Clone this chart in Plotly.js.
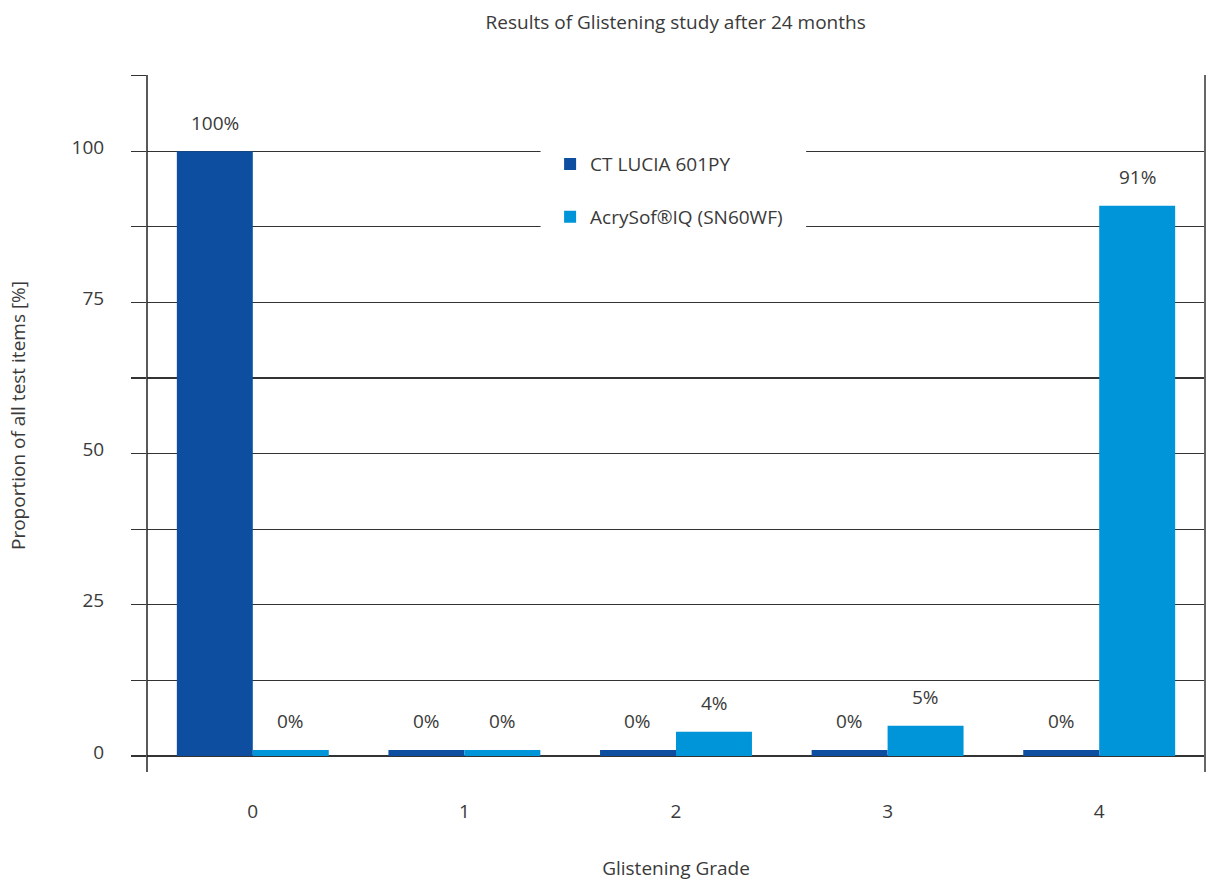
<!DOCTYPE html>
<html>
<head>
<meta charset="utf-8">
<script src="https://cdn.plot.ly/plotly-3.0.1.min.js"></script>
<style>html,body{margin:0;padding:0;background:#fff;}#chart{width:1212px;height:885px;}</style>
</head>
<body>
<div id="chart"></div>
<script>
const grades = [0, 1, 2, 3, 4];
const gradeLabels = ['0', '1', '2', '3', '4'];
const seriesNames = ['CT LUCIA 601PY', 'AcrySof®IQ (SN60WF)'];
const luciaValues = [100, 0, 0, 0, 0];
const acrysofValues = [0, 0, 4, 5, 91];
const yTickVals = [0, 12.5, 25, 37.5, 50, 62.5, 75, 87.5, 100, 112.5];
const yTickText = ['0', '', '25', '', '50', '', '75', '', '100', ''];

const FONT = '"Open Sans", "Noto Sans", sans-serif';
const TXT = '#3a3a3a';
const colors = ['#0d4ea0', '#0095d9'];
const minShown = 1; // zero-valued bars are drawn as a thin sliver in the reference

const allSeries = [luciaValues, acrysofValues];
const traces = allSeries.map((vals, i) => ({
  type: 'bar',
  name: seriesNames[i],
  x: grades,
  y: vals.map(v => Math.max(v, minShown)),
  marker: {color: colors[i], line: {width: 0}},
  legendgroup: 'g' + i,
  hoverinfo: 'skip'
}));

const offsets = [-0.18, 0.18];
const annotations = [];
allSeries.forEach((vals, i) => {
  vals.forEach((v, j) => {
    annotations.push({
      x: grades[j] + offsets[i], y: Math.max(v, minShown), xref: 'x', yref: 'y',
      text: v + '%', showarrow: false, yanchor: 'bottom', yshift: 13.5,
      font: {family: FONT, size: 19, color: TXT}
    });
  });
});

const layout = {
  width: 1212, height: 885,
  paper_bgcolor: '#fff', plot_bgcolor: '#fff',
  margin: {l: 146.5, r: 6.75, t: 75, b: 129, pad: 0},
  font: {family: FONT, size: 19, color: TXT},
  title: {text: 'Results of Glistening study after 24 months', x: 0.5575, xanchor: 'center', y: 0.975, yanchor: 'middle',
          font: {family: FONT, size: 19, color: TXT}},
  barmode: 'group', bargap: 0.282, bargroupgap: 0,
  showlegend: true,
  legend: {x: 0.381, xanchor: 'left', y: 0.897, yanchor: 'top', bgcolor: 'rgba(0,0,0,0)', borderwidth: 0,
           tracegroupgap: 25, traceorder: 'grouped', font: {family: FONT, size: 19, color: TXT}},
  xaxis: {
    type: 'linear', range: [-0.5, 4.5], tickvals: grades, ticktext: gradeLabels,
    showgrid: false, zeroline: false, showline: false,
    ticks: 'outside', ticklen: 0, ticklabelstandoff: 38,
    tickfont: {family: FONT, size: 19, color: TXT},
    title: {text: 'Glistening Grade', standoff: 38, font: {family: FONT, size: 19, color: TXT}}
  },
  yaxis: {
    range: [0, 112.6], tickvals: yTickVals, ticktext: yTickText,
    showgrid: true, gridcolor: '#333', gridwidth: 1.3,
    zeroline: true, zerolinecolor: '#333', zerolinewidth: 1.3,
    showline: false,
    ticks: 'outside', ticklen: 15, tickcolor: '#333', tickwidth: 1.3, ticklabelstandoff: 23, ticklabelshift: -4,
    tickfont: {family: FONT, size: 19, color: TXT},
    title: {text: 'Proportion of all test items [%]', standoff: 40, font: {family: FONT, size: 19, color: TXT}}
  },
  shapes: [
    {type: 'rect', xref: 'paper', yref: 'paper', x0: 0.372, x1: 0.623, y0: 0.745, y1: 0.93,
     fillcolor: '#fff', line: {width: 0}, layer: 'above'},
    {type: 'line', xref: 'paper', yref: 'paper', x0: 0, x1: 0, y0: -0.0235, y1: 1.0,
     line: {color: '#222', width: 1.5}, layer: 'above'},
    {type: 'line', xref: 'paper', yref: 'paper', x0: 1, x1: 1, y0: -0.0235, y1: 1.0,
     line: {color: '#666', width: 2}, layer: 'above'}
  ],
  annotations: annotations
};

Plotly.newPlot('chart', traces, layout, {displayModeBar: false, staticPlot: true});
</script>
</body>
</html>
